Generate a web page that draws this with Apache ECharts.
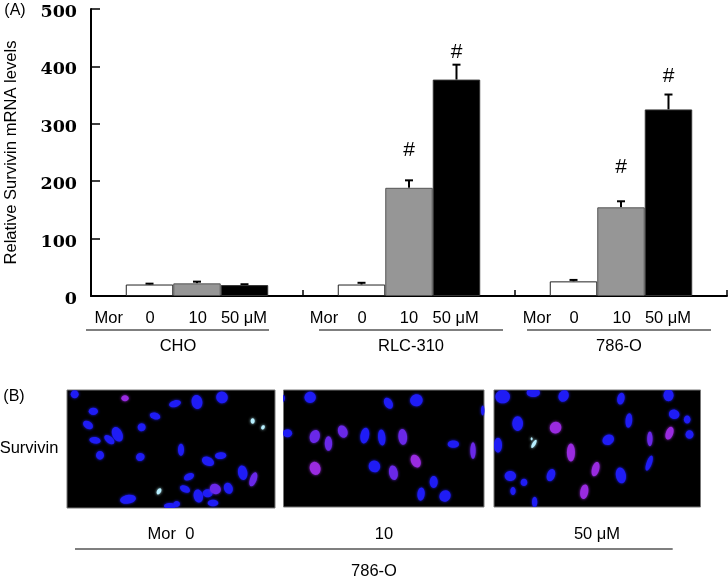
<!DOCTYPE html>
<html><head><meta charset="utf-8">
<style>html,body{margin:0;padding:0;background:#fff}#c{width:728px;height:581px}</style>
<script src="https://cdn.jsdelivr.net/npm/echarts@6/dist/echarts.min.js"></script>
</head><body><div id="c"></div>
<script>
const categories = ['CHO', 'RLC-310', '786-O'];
const mor0 = [20, 20, 25.5];
const mor10 = [22, 188.5, 154.5];
const mor50 = [19, 377, 325];
const err0 = [21.5, 23, 28];
const err10 = [25, 201.5, 165];
const err50 = [20.5, 403, 351];
const hashMarks = [[1, 1, 254], [1, 2, 425], [2, 1, 225], [2, 2, 383]];
const yTicks = [0, 100, 200, 300, 400, 500];
const doseLabels = ['Mor', '0', '10', '50 \u03bcM'];

// nuclei: x, y, rx, ry, tilt, stain (0 blue, 1 violet, 2 magenta, 3 bright)
const cells1 = [[224,43,12,12,0,0],[375,55,11,9,0,2],[525,71,18,10,-15,0],[591,66,16,21,-10,0],[666,52,17,18,-30,0],[280,94,14,11,0,0],[465,108,16,10,15,0],[758,123,6,8,0,3],[789,142,5,7,30,3],[264,135,16,11,30,0],[425,142,12,12,30,0],[352,163,15,23,-25,0],[328,179,18,10,40,0],[285,181,17,10,10,0],[543,209,9,18,0,0],[300,226,12,13,0,0],[421,231,13,12,-20,0],[624,244,19,13,25,0],[662,227,17,10,-5,0],[728,278,14,22,-10,0],[760,298,10,22,20,1],[567,290,16,10,-25,0],[555,327,16,10,25,0],[595,348,14,20,-10,0],[623,340,15,12,0,0],[646,327,17,15,30,1],[685,325,13,17,-20,0],[639,369,16,10,0,0],[477,334,6,10,30,3],[384,358,24,13,-10,0],[510,378,18,9,0,0],[530,372,10,9,0,0]];
const cells2 = [[90,52,17,17,0,0],[10,55,4,10,0,0],[325,70,12,18,-30,0],[409,61,19,18,-20,0],[608,92,5,15,0,0],[22,160,14,12,0,0],[104,170,15,20,15,1],[145,191,11,22,0,1],[188,155,14,19,-20,1],[254,167,13,24,10,0],[305,173,11,24,-5,0],[368,171,13,24,-5,1],[520,193,17,11,0,0],[579,212,8,25,0,1],[105,266,16,20,-15,2],[283,260,17,18,-30,0],[340,279,13,22,-10,1],[407,244,14,20,-25,2],[461,307,12,18,0,0],[423,343,11,20,5,0],[495,349,16,18,40,0]];
const cells3 = [[668,50,22,20,0,0],[760,38,20,13,0,0],[851,48,15,18,25,0],[1023,56,11,18,10,0],[1166,46,15,18,0,0],[1183,103,16,14,20,0],[1222,119,10,12,0,0],[1229,164,12,13,0,0],[1047,122,10,22,5,0],[713,131,16,22,0,0],[827,143,17,18,30,2],[1110,177,8,22,0,1],[1169,160,11,20,20,2],[654,196,12,22,0,0],[985,180,18,15,-30,0],[873,218,12,27,0,2],[762,192,5,14,30,3],[755,177,3,5,0,3],[947,268,11,22,15,2],[1023,287,15,24,-10,0],[1108,250,8,24,20,0],[813,286,12,19,20,0],[691,289,17,15,0,0],[732,308,10,11,0,0],[699,334,8,12,0,0],[913,336,12,22,10,2],[764,367,8,16,0,0]];

const stainColors = ['#1f1cf5', '#6a28e8', '#9a2be0', '#b8f0ff'];
const SANS = '"Liberation Sans", Arial, sans-serif';
const barFrac = 0.224;

function errorBar(values, slot) {
  return {
    type: 'custom', xAxisIndex: 0, yAxisIndex: 0, z: 1,
    data: values.map((v, i) => [i, v, [mor0, mor10, mor50][slot][i]]),
    encode: { x: 0, y: 1 },
    renderItem(params, api) {
      const band = api.size([1, 0])[0];
      const off = (slot - 1) * band * barFrac;
      const top = api.coord([api.value(0), api.value(1)]);
      const base = api.coord([api.value(0), api.value(2)]);
      const x = top[0] + off;
      return { type: 'group', children: [
        { type: 'line', shape: { x1: x, y1: base[1], x2: x, y2: top[1] }, style: { stroke: '#000', lineWidth: 2 } },
        { type: 'line', shape: { x1: x - 4, y1: top[1], x2: x + 4, y2: top[1] }, style: { stroke: '#000', lineWidth: 2 } }
      ]};
    }
  };
}
function bar(values, color, border) {
  return { type: 'bar', data: values, barWidth: (barFrac * 100) + '%', barGap: 0, z: 2,
    itemStyle: { color, borderColor: border, borderWidth: 1 } };
}
function cellSeries(cells, idx) {
  return {
    type: 'custom', xAxisIndex: idx, yAxisIndex: idx, clip: true, data: cells,
    encode: { x: 0, y: 1 },
    renderItem(params, api) {
      const p = api.coord([api.value(0), api.value(1)]);
      const s = api.size([1, 1]);
      const c = stainColors[api.value(5)];
      return { type: 'ellipse', x: p[0], y: p[1], rotation: -api.value(4) * Math.PI / 180,
        shape: { cx: 0, cy: 0, rx: api.value(2) * s[0], ry: api.value(3) * s[1] },
        style: { fill: c, shadowBlur: 3, shadowColor: c } };
    }
  };
}
const hashSeries = {
  type: 'custom', xAxisIndex: 0, yAxisIndex: 0, z: 3, data: hashMarks,
  encode: { x: 0, y: 2 },
  renderItem(params, api) {
    const band = api.size([1, 0])[0];
    const p = api.coord([api.value(0), api.value(2)]);
    return { type: 'text', x: p[0] + (api.value(1) - 1) * band * barFrac, y: p[1],
      style: { text: '#', fontFamily: SANS, fontSize: 21, fill: '#000', align: 'center', verticalAlign: 'middle' } };
  }
};

function txt(text, x, y, size) {
  return { type: 'text', x, y, style: { text, fontFamily: SANS, fontSize: size || 16.5, fill: '#000', align: 'center', verticalAlign: 'middle' } };
}
function rule(x1, x2, y) {
  return { type: 'line', shape: { x1, y1: y, x2, y2: y }, style: { stroke: '#000', lineWidth: 1.2 } };
}
const doseRows = [[108.7, 150, 197.7, 244], [324, 362, 409, 455.7], [537, 574, 621.7, 668]];
const graphics = [
  txt('(A)', 15, 11, 16), txt('(B)', 14, 397, 16), txt('Survivin', 29, 448, 16.5),
  rule(86, 269, 330), rule(319, 503, 330), rule(527, 711, 330),
  txt(categories[0], 178, 346), txt(categories[1], 411, 346), txt(categories[2], 619, 346),
  txt(doseLabels[0] + '  ' + doseLabels[1], 171, 534),
  txt(doseLabels[2], 384, 534), txt(doseLabels[3], 597, 534),
  rule(75, 672.7, 549), txt(categories[2], 374, 571.5)
];
doseRows.forEach(r => r.forEach((x, i) => graphics.push(txt(doseLabels[i], x, 318.5))));

const panelGrid = (left, top, width, height) => ({ left, top, width, height, show: true, backgroundColor: '#000', borderColor: '#777', borderWidth: 1, outerBoundsMode: 'none' });
const hiddenX = (min, max, gridIndex) => ({ type: 'value', min, max, gridIndex, show: false });
const hiddenY = (min, max, gridIndex) => ({ type: 'value', min, max, gridIndex, inverse: true, show: false });

const chart = echarts.init(document.getElementById('c'), null, { renderer: 'canvas' });
chart.setOption({
  animation: false,
  backgroundColor: '#fff',
  grid: [
    { left: 91, top: 9, width: 636, height: 287, outerBoundsMode: 'none' },
    panelGrid(67, 390, 208, 118),
    panelGrid(283.5, 390, 200.5, 117),
    panelGrid(494, 390, 206.5, 117)
  ],
  xAxis: [
    { type: 'category', data: categories, gridIndex: 0,
      axisLine: { lineStyle: { color: '#000', width: 2 } },
      axisTick: { show: true, inside: true, length: 6, lineStyle: { color: '#000', width: 1.5 } },
      axisLabel: { show: false } },
    hiddenX(201, 825, 1), hiddenX(10, 612, 2), hiddenX(642, 1262, 3)
  ],
  yAxis: [
    { type: 'value', min: yTicks[0], max: yTicks[yTicks.length - 1], interval: 100, gridIndex: 0,
      name: 'Relative Survivin mRNA levels', nameLocation: 'middle', nameGap: 71, nameRotate: 90,
      nameTextStyle: { fontFamily: SANS, fontSize: 16.6, color: '#000' },
      splitLine: { show: false },
      axisLine: { show: true, lineStyle: { color: '#000', width: 2 } },
      axisTick: { show: true, inside: true, length: 9, lineStyle: { color: '#000', width: 1.5 } },
      axisLabel: { fontFamily: '"DejaVu Serif", serif', fontWeight: 'bold', fontSize: 17.5, color: '#000', margin: 14, verticalAlign: 'top', lineHeight: 7 } },
    hiddenY(30, 384, 1), hiddenY(30, 382, 2), hiddenY(30, 382, 3)
  ],
  series: [
    errorBar(err0, 0), errorBar(err10, 1), errorBar(err50, 2),
    bar(mor0, '#fff', '#222'), bar(mor10, '#969696', '#555'), bar(mor50, '#000', '#333'),
    hashSeries,
    cellSeries(cells1, 1), cellSeries(cells2, 2), cellSeries(cells3, 3)
  ],
  graphic: graphics
});
</script></body></html>
